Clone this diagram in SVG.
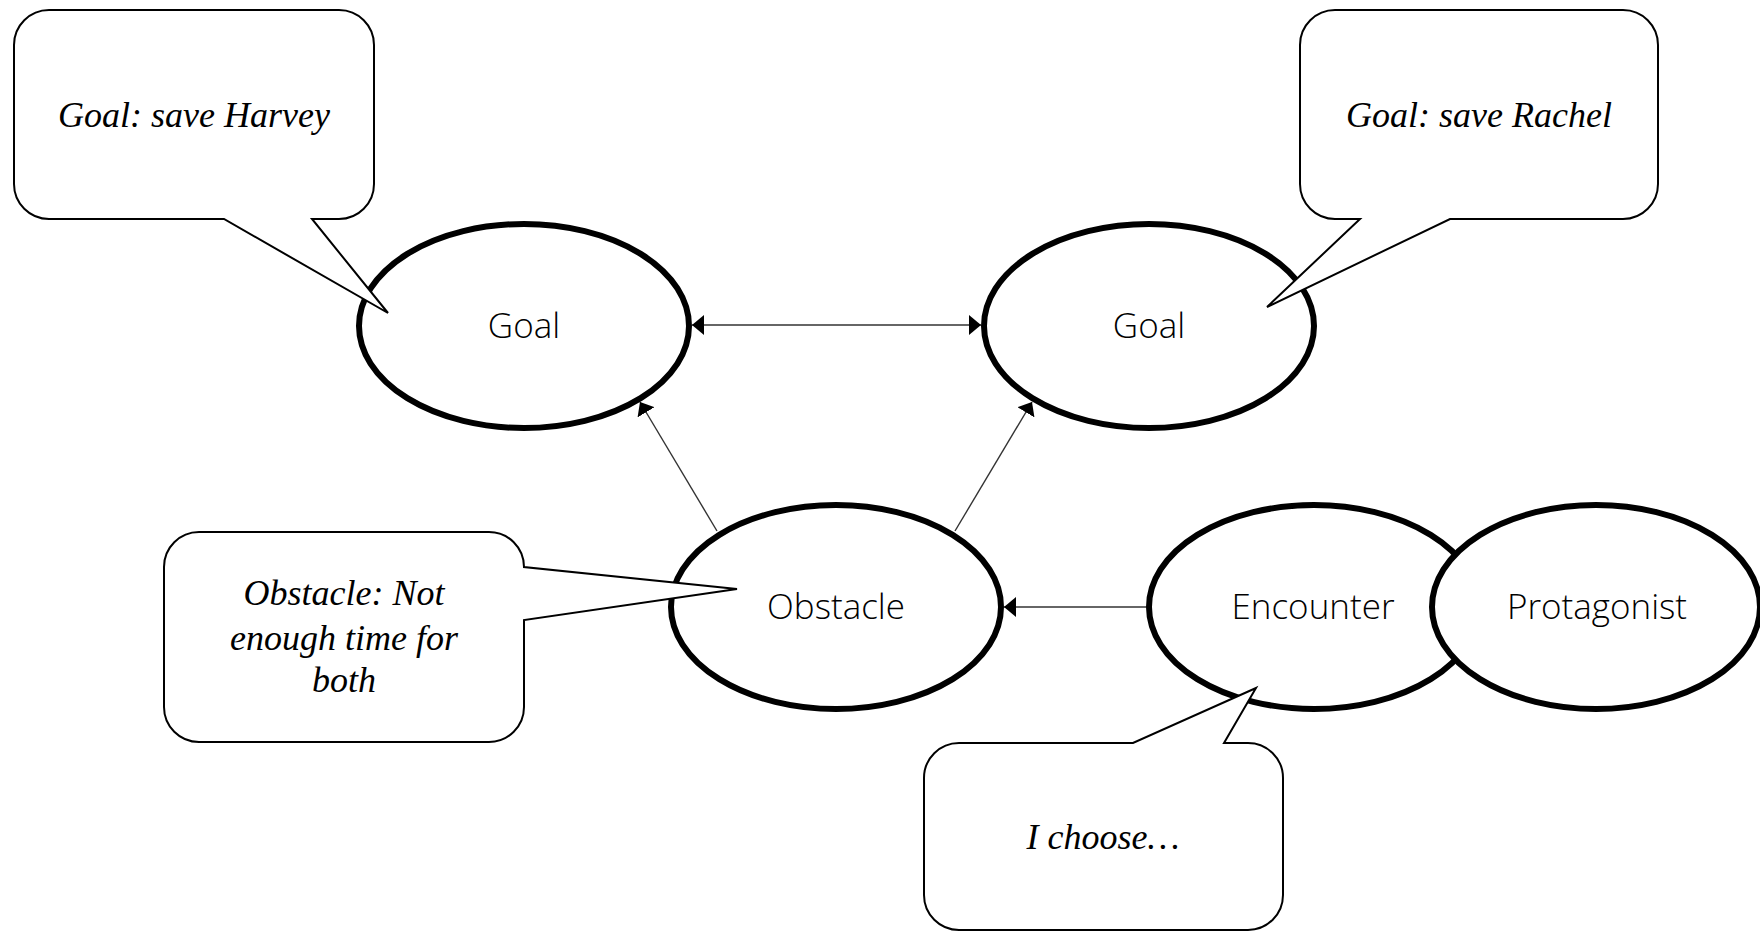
<svg xmlns="http://www.w3.org/2000/svg" width="1760" height="932" viewBox="0 0 1760 932">
  <style>
    .node ellipse { fill: #ffffff; stroke: #000000; stroke-width: 6; }
    .node text { font-family: "Open Sans", "Liberation Sans", sans-serif; font-weight: 300; font-size: 35px; fill: #000000; text-anchor: middle; }
    .callout path { fill: #ffffff; stroke: #000000; stroke-width: 2; stroke-linejoin: miter; }
    .callout text { font-family: "Liberation Serif", "DejaVu Serif", serif; font-style: italic; font-size: 36px; fill: #000000; text-anchor: middle; }
    .edge { fill: none; stroke: #333333; stroke-width: 1.4; }
  </style>
  <defs>
    <marker id="arrow" viewBox="0 0 12 20" refX="12" refY="10" markerWidth="12" markerHeight="20" markerUnits="userSpaceOnUse" orient="auto-start-reverse">
      <path d="M0,0 L12,10 L0,20 Z" fill="#000000"/>
    </marker>
  </defs>
  <rect x="0" y="0" width="1760" height="932" fill="#ffffff"/>

  <!-- main story nodes -->
  <g id="goal-left" class="node">
    <ellipse cx="524" cy="326" rx="165" ry="102"/>
    <text x="524" y="338">Goal</text>
  </g>
  <g id="goal-right" class="node">
    <ellipse cx="1149" cy="326" rx="165" ry="102"/>
    <text x="1149" y="338">Goal</text>
  </g>
  <g id="obstacle" class="node">
    <ellipse cx="836" cy="607" rx="165" ry="102"/>
    <text x="836" y="619">Obstacle</text>
  </g>
  <g id="encounter" class="node">
    <ellipse cx="1314" cy="607" rx="165" ry="102"/>
    <text x="1313" y="619">Encounter</text>
  </g>
  <g id="protagonist" class="node">
    <ellipse cx="1596" cy="607" rx="164" ry="102"/>
    <text x="1597" y="619">Protagonist</text>
  </g>

  <!-- connectors -->
  <g id="connectors">
    <line class="edge" x1="692" y1="325" x2="981" y2="325" marker-start="url(#arrow)" marker-end="url(#arrow)"/>
    <line class="edge" x1="717" y1="531" x2="640" y2="402" marker-end="url(#arrow)"/>
    <line class="edge" x1="955" y1="531" x2="1032" y2="402" marker-end="url(#arrow)"/>
    <line class="edge" x1="1146" y1="607" x2="1004" y2="607" marker-end="url(#arrow)"/>
  </g>

  <!-- speech-bubble annotations -->
  <g id="callout-harvey" class="callout">
    <path d="M49,10 H339 A35,35 0 0 1 374,45 V184 A35,35 0 0 1 339,219 H312 L388,313 L224,219 H49 A35,35 0 0 1 14,184 V45 A35,35 0 0 1 49,10 Z"/>
    <text x="194" y="127">Goal: save Harvey</text>
  </g>
  <g id="callout-rachel" class="callout">
    <path d="M1335,10 H1623 A35,35 0 0 1 1658,45 V184 A35,35 0 0 1 1623,219 H1450 L1267,307 L1360,219 H1335 A35,35 0 0 1 1300,184 V45 A35,35 0 0 1 1335,10 Z"/>
    <text x="1479" y="127">Goal: save Rachel</text>
  </g>
  <g id="callout-obstacle" class="callout">
    <path d="M199,532 H489 A35,35 0 0 1 524,567 L737,589 L524,620 V707 A35,35 0 0 1 489,742 H199 A35,35 0 0 1 164,707 V567 A35,35 0 0 1 199,532 Z"/>
    <text x="344" y="605">Obstacle: Not</text>
    <text x="344" y="650">enough time for</text>
    <text x="344" y="692">both</text>
  </g>
  <g id="callout-choice" class="callout">
    <path d="M959,743 H1133 L1256,688 L1224,743 H1248 A35,35 0 0 1 1283,778 V895 A35,35 0 0 1 1248,930 H959 A35,35 0 0 1 924,895 V778 A35,35 0 0 1 959,743 Z"/>
    <text x="1103" y="849">I choose…</text>
  </g>
</svg>
